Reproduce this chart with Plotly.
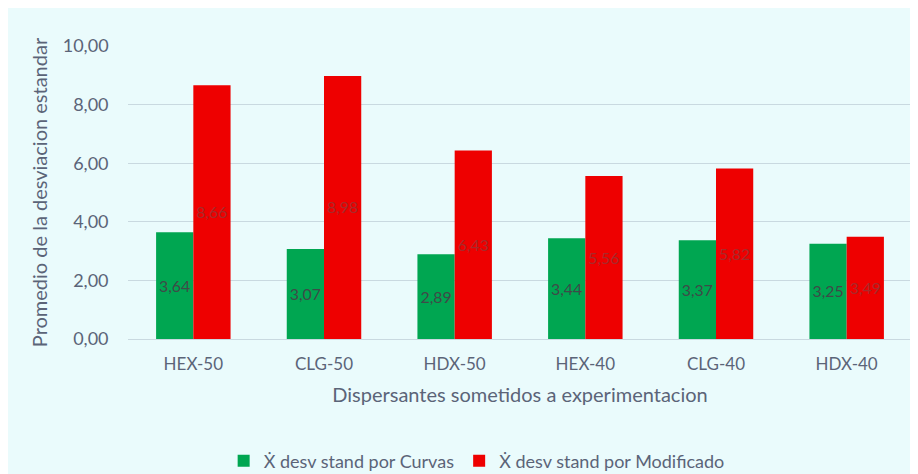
import plotly.graph_objects as go

categories = ["HEX-50", "CLG-50", "HDX-50", "HEX-40", "CLG-40", "HDX-40"]
curvas = [3.64, 3.07, 2.89, 3.44, 3.37, 3.25]
modificado = [8.66, 8.98, 6.43, 5.56, 5.82, 3.49]

_BG = "#eafbfc"
_GRID = "#c9d9e0"
_TXT = "#5b6478"
_GREEN = "#00a651"
_RED = "#ee0000"
_FONT = "Lato, 'Open Sans', sans-serif"


def fmt(v):
    return f"{v:.2f}".replace(".", ",")


fig = go.Figure()
fig.add_trace(go.Bar(
    x=categories, y=curvas, name="X\u0307 desv stand por Curvas",
    marker=dict(color=_GREEN, line=dict(width=0)),
    text=[fmt(v) for v in curvas], textposition="inside",
    insidetextanchor="middle", textangle=0,
    textfont=dict(family=_FONT, size=17, color="#3f4a48"),
))
fig.add_trace(go.Bar(
    x=categories, y=modificado, name="X\u0307 desv stand por Modificado",
    marker=dict(color=_RED, line=dict(width=0)),
    text=[fmt(v) for v in modificado], textposition="inside",
    insidetextanchor="middle", textangle=0,
    textfont=dict(family=_FONT, size=17, color="#a82a2a"),
))

fig.update_layout(
    width=910, height=466,
    paper_bgcolor=_BG, plot_bgcolor=_BG,
    font=dict(family=_FONT, color=_TXT, size=16),
    margin=dict(l=120, r=6, t=38, b=135, autoexpand=False),
    barmode="group", bargap=0.43, bargroupgap=0,
    uniformtext=dict(mode="show", minsize=10),
    xaxis=dict(
        title=dict(text="Dispersantes sometidos a experimentacion",
                   font=dict(size=20, color=_TXT), standoff=14),
        tickfont=dict(size=17, color=_TXT), showgrid=False, automargin=False,
        showline=True, linecolor=_GRID, linewidth=1,
        ticks="outside", ticklen=10, tickcolor="rgba(0,0,0,0)",
    ),
    yaxis=dict(
        title=dict(text="Promedio de la desviacion estandar",
                   font=dict(size=20, color=_TXT), standoff=9),
        range=[0, 10], dtick=2, tickformat=".2f", automargin=False,
        tickfont=dict(size=18, color=_TXT), gridcolor=_GRID, zeroline=False,
        ticksuffix="    ",
    ),
    separators=",.",
    legend=dict(orientation="h", xref="container", yref="container",
                x=0.515, xanchor="center", y=0.028, yanchor="middle",
                font=dict(size=18, color=_TXT), bgcolor="rgba(0,0,0,0)",
                itemwidth=30, tracegroupgap=0),
)

fig.write_html("out.html")
